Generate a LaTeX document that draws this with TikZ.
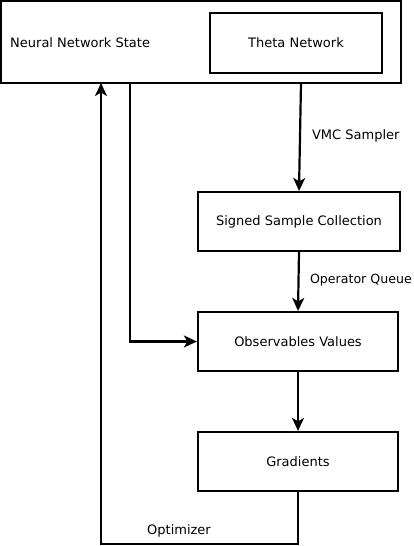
\documentclass[tikz,border=0pt]{standalone}
\usepackage{fontspec}
\setmainfont{DejaVu Sans}
\usetikzlibrary{arrows.meta}
\begin{document}
\begin{tikzpicture}[x=1pt,y=-1pt,
  every node/.style={font=\fontsize{13}{15}\selectfont, inner sep=0pt},
  conn/.style={line width=2.2pt, -{Stealth[length=13pt,width=12pt,inset=3.5pt]}}]
\useasboundingbox (0,0) rectangle (413,546);
\node[draw, line width=2.2pt, minimum width=400pt, minimum height=82pt] (nns) at (201,42) {};
\node[anchor=west] (nnsl) at (10,43) {Neural Network State};
\node[draw, line width=2.2pt, minimum width=172pt, minimum height=60pt] (theta) at (296,43) {Theta Network};
\node[draw, line width=2.2pt, minimum width=202pt, minimum height=59pt] (ssc) at (299,221.5) {Signed Sample Collection};
\node[draw, line width=2.2pt, minimum width=200pt, minimum height=59pt] (obs) at (298,341.5) {Observables Values};
\node[draw, line width=2.2pt, minimum width=200pt, minimum height=59pt] (grad) at (298,461.5) {Gradients};
\coordinate (a1) at (301,83);
\coordinate (b1) at (130,83);
\coordinate (c1) at (101,83);
\coordinate (g1) at (298,544);
\coordinate (g2) at (101,544);
\draw[conn] (a1) -- (ssc.north) node[midway, anchor=west, xshift=11pt, yshift=1pt] (vmc) {VMC Sampler};
\draw[conn] (ssc.south) -- (obs.north);
\node[anchor=east, font=\fontsize{12.6}{15}\selectfont] (opq) at (412,280) {Operator Queue};
\draw[conn] (b1) |- (obs.west);
\draw[conn] (obs.south) -- (grad.north);
\draw[conn] (grad.south) -- (g1) -- (g2) -- (c1);
\node (optl) at (179,531) {Optimizer};
\end{tikzpicture}
\end{document}
